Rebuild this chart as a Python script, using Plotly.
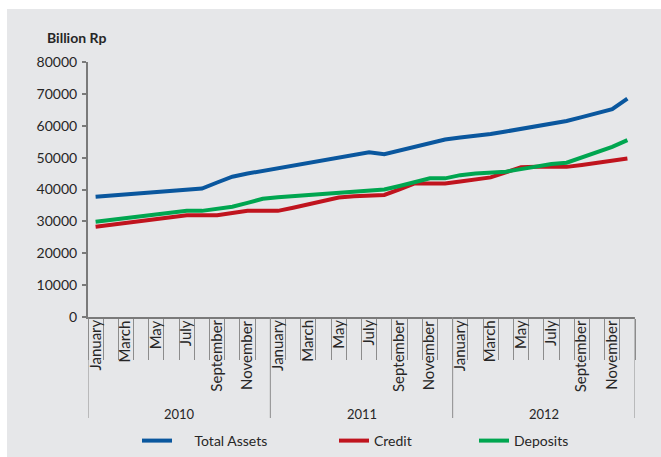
import plotly.graph_objects as go

years = ["2010", "2011", "2012"]
months = ["January", "February", "March", "April", "May", "June", "July",
          "August", "September", "October", "November", "December"]
month_labels = ["January", "", "March", "", "May", "", "July", "",
                "September", "", "November", ""]

total_assets = [37700, 38100, 38500, 38900, 39200, 39600, 39900, 40300, 42200, 44000, 45000, 45800,
                46600, 47400, 48200, 49000, 49800, 50700, 51700, 51100, 52300, 53500, 54600, 55700,
                56300, 56800, 57400, 58200, 59000, 59700, 60500, 61500, 62700, 63900, 65200, 68500]
credit = [28300, 28900, 29500, 30100, 30700, 31300, 31900, 31900, 31900, 32600, 33300, 33300,
          33300, 34300, 35400, 36500, 37500, 37900, 38100, 38300, 40000, 41900, 41900, 41900,
          42500, 43100, 43800, 45400, 47000, 47100, 47100, 47100, 47700, 48400, 49100, 49700]
deposits = [29900, 30500, 31100, 31700, 32200, 32800, 33300, 33300, 33900, 34600, 35800, 37100,
            37600, 37900, 38200, 38500, 38800, 39100, 39500, 40000, 41100, 42300, 43500, 43500,
            44500, 45000, 45300, 45600, 46400, 47300, 48000, 48400, 50000, 51700, 53400, 55500]

series_names = ["\u00a0" * 5 + "Total Assets", "Credit", "Deposits"]
y_ticks = [0, 10000, 20000, 30000, 40000, 50000, 60000, 70000, 80000]

categories = [f"{m} {y}" for y in years for m in months]
tick_text = [lab for y in years for lab in month_labels]

BG = "#E6E7E9"
TXT = "#262626"
AX = "#7a7a7a"
FONT = "Lato"

W, H = 661, 457
L, R, T, B = 88, 26, 62, 140
pw, ph = W - L - R, H - T - B

def px_x(p):
    return (p - L) / pw

def px_y(p):
    return (H - B - p) / ph

fig = go.Figure()
colors = ["#0A579E", "#C0141E", "#00A650"]
legends = ["legend", "legend2", "legend3"]
for vals, name, col, lg in zip([total_assets, credit, deposits], series_names, colors, legends):
    fig.add_trace(go.Scatter(x=categories, y=vals, mode="lines", name=name, showlegend=True,
                             line=dict(color=col, width=4), legend=lg))

shapes = [dict(type="rect", xref="paper", yref="paper", x0=px_x(7), x1=1.2,
               y0=-0.7, y1=px_y(9), fillcolor=BG, line=dict(width=0), layer="below")]
n_per_year = len(months)
for k in range(len(years) + 1):
    xb = k * n_per_year - 0.5
    shapes.append(dict(type="line", xref="x", yref="paper", x0=xb, x1=xb,
                       y0=0, y1=px_y(418), line=dict(color="#8c8c8c", width=1)))

annotations = [dict(text="<b>Billion Rp</b>", xref="paper", yref="paper", x=px_x(45), y=px_y(38),
                    xanchor="left", yanchor="middle", showarrow=False,
                    font=dict(family=FONT, size=14, color=TXT))]
for k, yr in enumerate(years):
    annotations.append(dict(text=yr, xref="x", yref="paper", x=k * n_per_year + (n_per_year - 1) / 2,
                            y=px_y(414), xanchor="center", yanchor="middle", showarrow=False,
                            font=dict(family=FONT, size=13, color=TXT)))
for i, lab in enumerate(tick_text):
    if lab:
        annotations.append(dict(text=lab, xref="x", yref="paper", x=i - 0.1, y=px_y(319),
                                xanchor="center", yanchor="top", textangle=-90, showarrow=False,
                                borderpad=0,
                                font=dict(family=FONT, size=15, color=TXT)))

leg_common = dict(orientation="h", xanchor="left", yanchor="middle", bgcolor="rgba(0,0,0,0)",
                  font=dict(family=FONT, size=14, color=TXT), itemwidth=30)

fig.update_layout(
    width=W, height=H,
    margin=dict(l=L, r=R, t=T, b=B, pad=0, autoexpand=False),
    paper_bgcolor="white", plot_bgcolor=BG,
    font=dict(family=FONT, color=TXT),
    showlegend=True,
    shapes=shapes, annotations=annotations,
    legend=dict(x=px_x(137), y=px_y(441), **leg_common),
    legend2=dict(x=px_x(334), y=px_y(441), **leg_common),
    legend3=dict(x=px_x(474), y=px_y(441), **leg_common),
    xaxis=dict(type="category", categoryorder="array", categoryarray=categories,
               tickmode="array", tickvals=categories, ticktext=[""] * len(categories),
               tickson="boundaries", ticks="outside", ticklen=41,
               tickcolor="#8c8c8c", tickwidth=1, automargin=False,
               showline=True, linecolor=AX, linewidth=2, showgrid=False, zeroline=False,
               range=[-0.5, 35.5]),
    yaxis=dict(range=[0, 80000], tickmode="array", tickvals=y_ticks,
               ticktext=[str(v) for v in y_ticks], automargin=False,
               ticks="outside", ticklen=4, tickwidth=2, tickcolor=AX,
               showline=True, linecolor=AX, linewidth=2, showgrid=False, zeroline=False,
               tickfont=dict(family=FONT, size=14, color=TXT), ticklabelstandoff=2),
)

fig.write_html("out.html")
